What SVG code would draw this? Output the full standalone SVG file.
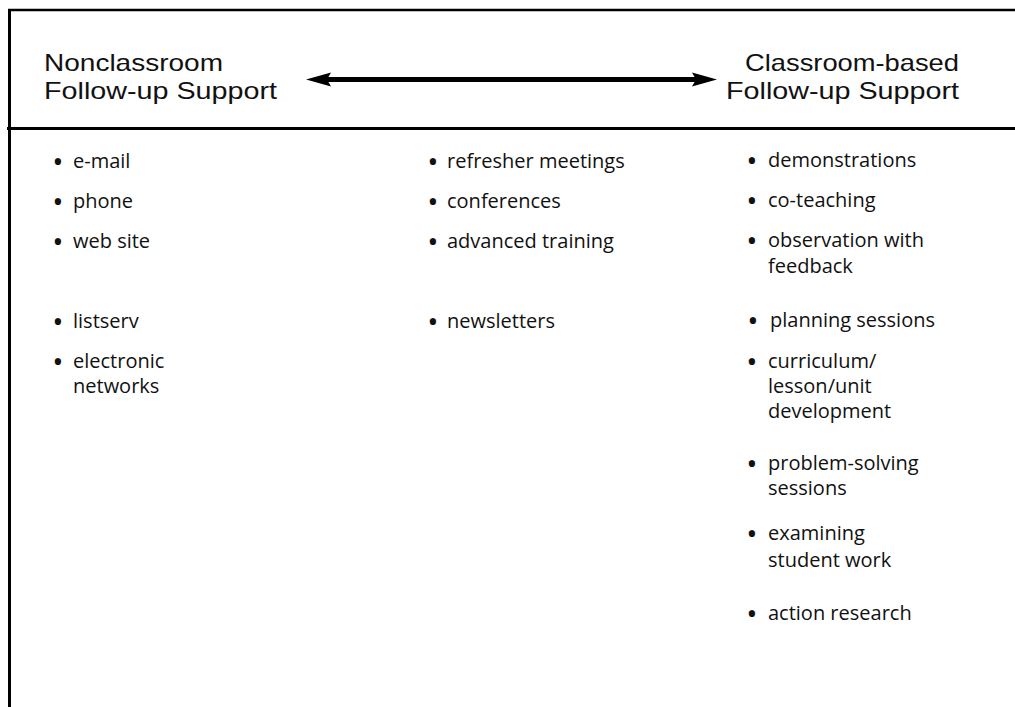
<svg xmlns="http://www.w3.org/2000/svg" width="1015" height="707" viewBox="0 0 1015 707">
  <style>
    text { font-family: "Open Sans", "DejaVu Sans", sans-serif; fill: #111; }
    .head { font-family: "Liberation Sans", "Open Sans", sans-serif; font-size: 24px; }
    .item { font-size: 20px; }
    .dot { font-size: 30px; text-anchor: middle; }
    .rule { stroke: #000; fill: none; }
  </style>

  <!-- frame: top edge, left edge, header divider -->
  <g id="frame">
    <line class="rule" x1="8" y1="10" x2="1015" y2="10" stroke-width="2.5"/>
    <line class="rule" x1="9.5" y1="9" x2="9.5" y2="707" stroke-width="3"/>
    <line class="rule" x1="7" y1="128.5" x2="1015" y2="128.5" stroke-width="3"/>
  </g>

  <!-- column headings -->
  <g id="head-nonclassroom">
    <text class="head" x="44" y="71" textLength="179" lengthAdjust="spacingAndGlyphs">Nonclassroom</text>
    <text class="head" x="44" y="99" textLength="233" lengthAdjust="spacingAndGlyphs">Follow-up Support</text>
  </g>
  <g id="head-classroom">
    <text class="head" x="745" y="71" textLength="214" lengthAdjust="spacingAndGlyphs">Classroom-based</text>
    <text class="head" x="726" y="99" textLength="233" lengthAdjust="spacingAndGlyphs">Follow-up Support</text>
  </g>

  <!-- double-headed continuum arrow -->
  <g id="connectors">
    <line x1="326" y1="79.5" x2="697" y2="79.5" stroke="#000" stroke-width="5"/>
    <path d="M306,79.5 L331,72.5 L327,79.5 L331,86.5 Z" fill="#000"/>
    <path d="M717,79.5 L692,72.5 L696,79.5 L692,86.5 Z" fill="#000"/>
  </g>

  <!-- left column -->
  <g id="item-email"><text class="dot" x="58" y="172">•</text><text class="item" x="73" y="168">e-mail</text></g>
  <g id="item-phone"><text class="dot" x="58" y="212">•</text><text class="item" x="73" y="208">phone</text></g>
  <g id="item-website"><text class="dot" x="58" y="252">•</text><text class="item" x="73" y="248">web site</text></g>
  <g id="item-listserv"><text class="dot" x="58" y="332">•</text><text class="item" x="73" y="328">listserv</text></g>
  <g id="item-electronic"><text class="dot" x="58" y="372">•</text><text class="item" x="73" y="368">electronic</text><text class="item" x="73" y="393">networks</text></g>

  <!-- middle column -->
  <g id="item-refresher"><text class="dot" x="433" y="172">•</text><text class="item" x="447" y="168">refresher meetings</text></g>
  <g id="item-conferences"><text class="dot" x="433" y="212">•</text><text class="item" x="447" y="208">conferences</text></g>
  <g id="item-advanced"><text class="dot" x="433" y="252">•</text><text class="item" x="447" y="248">advanced training</text></g>
  <g id="item-newsletters"><text class="dot" x="433" y="332">•</text><text class="item" x="447" y="328">newsletters</text></g>

  <!-- right column -->
  <g id="item-demonstrations"><text class="dot" x="752" y="171">•</text><text class="item" x="768" y="167">demonstrations</text></g>
  <g id="item-coteaching"><text class="dot" x="752" y="211">•</text><text class="item" x="768" y="207">co-teaching</text></g>
  <g id="item-observation"><text class="dot" x="752" y="251">•</text><text class="item" x="768" y="247">observation with</text><text class="item" x="768" y="273">feedback</text></g>
  <g id="item-planning"><text class="dot" x="753" y="331">•</text><text class="item" x="770" y="327">planning sessions</text></g>
  <g id="item-curriculum"><text class="dot" x="752" y="372">•</text><text class="item" x="768" y="368">curriculum/</text><text class="item" x="768" y="393">lesson/unit</text><text class="item" x="768" y="418">development</text></g>
  <g id="item-problem"><text class="dot" x="752" y="474">•</text><text class="item" x="768" y="470">problem-solving</text><text class="item" x="768" y="495">sessions</text></g>
  <g id="item-examining"><text class="dot" x="752" y="544">•</text><text class="item" x="768" y="540">examining</text><text class="item" x="768" y="567">student work</text></g>
  <g id="item-action"><text class="dot" x="752" y="624">•</text><text class="item" x="768" y="620">action research</text></g>
</svg>
